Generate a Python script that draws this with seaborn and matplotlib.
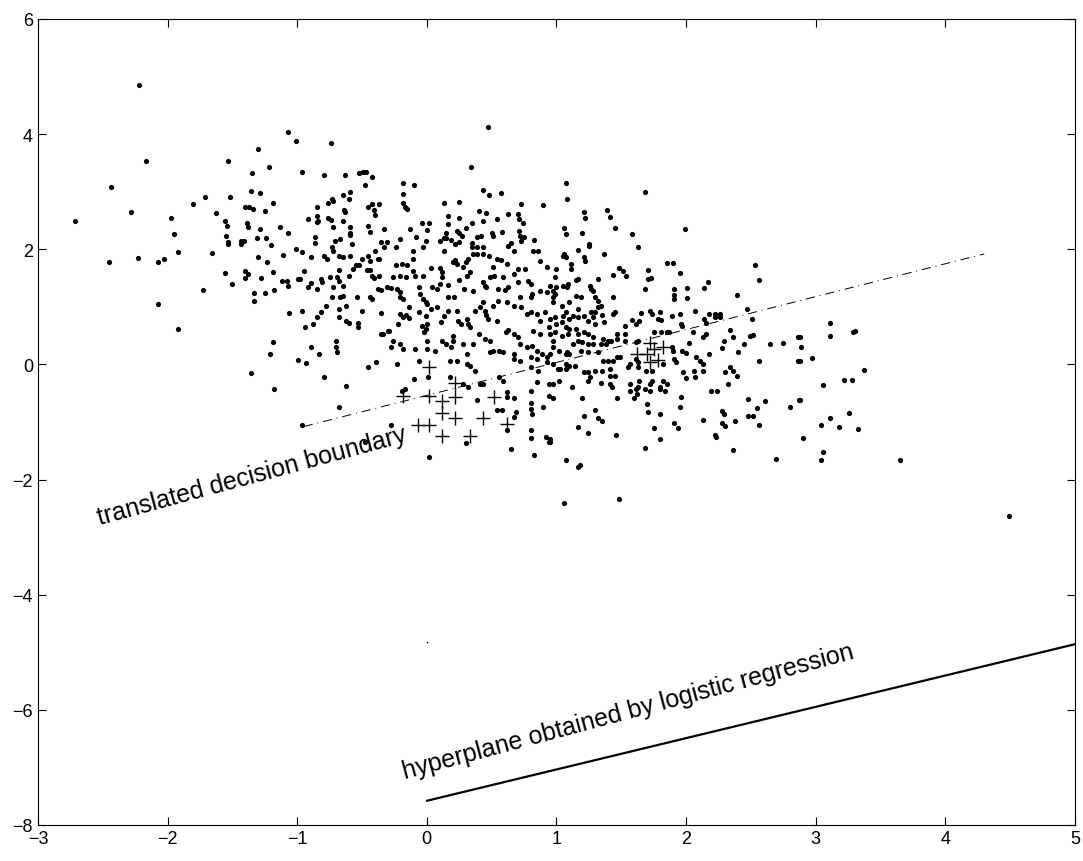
import matplotlib
matplotlib.use("Agg")
import matplotlib.pyplot as plt
import seaborn as sns
import pandas as pd

sns.set_style("ticks")
plt.rcParams["font.family"] = ["Liberation Sans", "DejaVu Sans"]
plt.rcParams["text.color"] = "black"

# scatter cloud (x, y)
dot_points = [
    (-2.22, 4.86), (-1.07, 4.04), (-1.01, 3.88), (-1.30, 3.74), (-2.17, 3.53), (-1.53, 3.53),
    (-1.22, 3.43), (-1.35, 3.33), (-2.44, 3.08), (-1.36, 3.01), (-1.29, 2.98), (-1.71, 2.91),
    (-1.52, 2.91), (-1.80, 2.79), (-1.19, 2.80), (-1.40, 2.74), (-1.37, 2.74), (-1.34, 2.70),
    (-2.28, 2.65), (-1.63, 2.63), (-1.25, 2.67), (-2.71, 2.49), (-1.97, 2.55), (-1.56, 2.49),
    (-1.54, 2.41), (-1.39, 2.46), (-1.38, 2.39), (-1.29, 2.35), (-1.13, 2.39), (-1.07, 2.28),
    (-1.95, 2.27), (-1.55, 2.23), (-1.53, 2.13), (-1.43, 2.15), (-1.41, 2.15), (-1.31, 2.20),
    (-1.24, 2.20),
    (-2.45, 1.78), (-2.23, 1.85), (-2.07, 1.78), (-2.03, 1.83), (-1.92, 1.95), (-1.66, 1.94),
    (-1.53, 2.09), (-1.43, 2.09), (-1.20, 2.08), (-1.01, 2.01), (-1.30, 1.87), (-1.11, 1.90),
    (-1.23, 1.78), (-1.56, 1.59), (-1.40, 1.63), (-1.38, 1.57), (-1.40, 1.50), (-1.28, 1.50),
    (-1.19, 1.61), (-1.50, 1.40), (-1.73, 1.30), (-1.12, 1.45), (-1.08, 1.45), (-1.07, 1.36),
    (-0.99, 1.49), (-1.33, 1.24), (-1.25, 1.24), (-1.18, 1.30), (-1.33, 1.10), (-2.07, 1.05),
    (-1.06, 0.90), (-1.92, 0.62), (-1.19, 0.39), (-1.21, 0.18), (-0.99, 0.08), (-1.36, -0.15),
    (-1.18, -0.42),
    (-0.68, -0.74), (-0.96, -1.05), (-0.28, -1.05), (-0.48, -1.34), (0.02, -1.60), (0.39, -0.61),
    (0.62, -0.56), (0.67, -0.58), (0.54, -0.79), (0.58, -0.79), (0.69, -0.82), (0.67, -0.91),
    (0.62, -1.14), (0.30, -1.36), (0.65, -1.47), (0.80, -0.67), (0.80, -0.77), (0.81, -0.86),
    (0.90, -0.74), (0.94, -0.55), (0.80, -1.14), (0.80, -1.28), (0.92, -1.26), (0.94, -1.34),
    (0.83, -1.57),
    (-0.96, 3.34), (-0.74, 3.85), (-0.79, 3.29), (-0.63, 3.29), (-0.52, 3.33), (-0.49, 3.34),
    (-0.47, 3.34), (-0.42, 3.26), (-0.48, 3.12), (-0.18, 3.15), (-0.10, 3.12), (-0.18, 2.96),
    (-0.65, 2.94), (-0.59, 3.00), (-0.60, 2.88), (-0.85, 2.74), (-0.76, 2.81), (-0.73, 2.88),
    (-0.72, 2.84), (-0.64, 2.68), (-0.63, 2.65), (-0.45, 2.74), (-0.42, 2.79), (-0.37, 2.79),
    (-0.41, 2.68), (-0.40, 2.60), (-0.18, 2.81), (-0.17, 2.74), (-0.15, 2.70), (-0.92, 2.53),
    (-0.85, 2.58), (-0.85, 2.48), (-0.84, 2.49), (-0.76, 2.55), (-0.74, 2.51), (-0.65, 2.49),
    (-0.72, 2.39), (-0.59, 2.39), (-0.59, 2.28), (-0.59, 2.25), (-0.45, 2.41), (-0.44, 2.30),
    (-0.33, 2.35), (-0.13, 2.35), (-0.04, 2.46), (0.02, 2.46), (0.00, 2.34), (-0.08, 2.22),
    (-0.21, 2.18), (-0.01, 2.15), (-0.35, 2.13), (-0.31, 2.13), (-0.71, 2.15), (-0.67, 2.18),
    (-0.86, 2.22), (-0.86, 2.11), (-0.58, 2.09), (0.13, 2.81), (0.25, 2.82), (0.16, 2.58),
    (0.25, 2.55), (0.16, 2.44), (0.15, 2.28), (0.23, 2.32), (0.25, 2.28), (0.27, 2.23),
    (0.13, 2.20), (0.15, 2.20), (0.19, 2.16), (0.10, 2.15), (0.25, 2.13), (0.30, 2.37),
    (0.35, 2.46), (0.34, 3.43), (0.47, 4.13), (0.43, 3.03), (0.48, 2.94), (0.57, 2.98),
    (0.40, 2.67), (0.46, 2.63), (0.43, 2.49), (0.54, 2.53), (0.63, 2.61), (0.70, 2.61),
    (0.71, 2.53), (0.74, 2.46), (0.73, 2.79), (0.90, 2.77), (0.39, 2.22), (0.42, 2.23),
    (0.50, 2.28), (0.51, 2.23), (0.58, 2.30), (0.71, 2.32), (0.72, 2.23), (0.75, 2.22),
    (0.73, 2.15), (0.83, 2.16), (0.65, 2.11), (0.35, 2.11),
    (1.07, 3.15), (1.08, 2.88), (1.21, 2.65), (1.22, 2.55), (1.39, 2.68), (1.41, 2.56),
    (1.68, 3.00), (1.45, 2.37), (1.06, 2.37), (1.07, 2.27), (1.20, 2.28), (1.58, 2.27),
    (1.99, 2.35), (1.25, 2.09),
    (-0.96, 1.95), (-0.89, 1.87), (-0.79, 1.89), (-0.77, 1.83), (-0.73, 2.04), (-0.72, 1.97),
    (-0.68, 1.89), (-0.65, 1.87), (-0.59, 1.89), (-0.50, 1.83), (-0.45, 1.89), (-0.44, 1.80),
    (-0.40, 1.97), (-0.37, 1.83), (-0.38, 1.83), (-0.33, 2.04), (-0.24, 2.04), (-0.11, 1.97),
    (-0.11, 1.83), (-0.03, 2.04), (0.13, 1.97), (0.22, 2.09), (0.22, 1.82), (0.23, 1.75),
    (0.20, 1.78), (0.28, 1.69), (0.30, 1.78), (0.32, 1.83), (0.36, 1.92), (0.39, 1.92),
    (0.43, 1.92), (0.48, 1.89), (0.35, 2.04), (0.39, 2.04), (0.43, 2.04), (0.54, 1.83),
    (0.57, 1.82), (0.63, 2.06), (0.67, 1.97), (0.82, 1.97), (0.86, 1.97), (0.87, 1.80),
    (0.93, 1.69), (0.51, 1.69), (0.62, 1.75), (0.70, 1.66), (0.76, 1.66), (-0.95, 1.63),
    (-0.98, 1.49), (-0.92, 1.35), (-0.89, 1.42), (-0.85, 1.31), (-0.82, 1.49), (-0.81, 1.43),
    (-0.75, 1.52), (-0.72, 1.35), (-0.69, 1.52), (-0.68, 1.45), (-0.65, 1.37), (-0.68, 1.64),
    (-0.60, 1.54), (-0.57, 1.66), (-0.55, 1.73), (-0.52, 1.73), (-0.46, 1.64), (-0.44, 1.64),
    (-0.42, 1.54), (-0.41, 1.50), (-0.37, 1.54), (-0.38, 1.31), (-0.35, 1.30), (-0.31, 1.35),
    (-0.28, 1.33), (-0.24, 1.73), (-0.19, 1.75), (-0.15, 1.73), (-0.26, 1.52), (-0.21, 1.54),
    (-0.16, 1.52), (-0.23, 1.31), (-0.21, 1.26), (-0.21, 1.17), (-0.18, 1.14), (-0.11, 1.63),
    (-0.09, 1.54), (-0.06, 1.35), (-0.05, 1.23), (-0.03, 1.14), (-0.01, 1.09), (0.00, 1.05),
    (-0.03, 1.54), (0.03, 1.68), (0.04, 1.35), (0.08, 1.31), (0.10, 1.68), (0.12, 1.61),
    (0.12, 1.52), (0.10, 1.40), (0.16, 1.38), (0.16, 1.17), (0.21, 1.17), (0.25, 1.47),
    (0.29, 1.31), (0.36, 1.28), (0.31, 1.54), (0.33, 1.61), (0.43, 1.43), (0.45, 1.36),
    (0.46, 1.35), (0.49, 1.52), (0.52, 1.54), (0.59, 1.52), (0.67, 1.57), (0.55, 1.31),
    (0.60, 1.30), (0.63, 1.35), (0.70, 1.43), (0.78, 1.45), (0.80, 1.40), (0.72, 1.17),
    (0.80, 1.17), (0.81, 1.23), (0.87, 1.28), (0.93, 1.26), (-0.96, 0.93), (-0.94, 0.65),
    (-0.73, 1.17), (-0.67, 1.17), (-0.65, 1.19), (-0.54, 1.17), (-0.44, 1.17), (-0.42, 1.14),
    (-0.78, 1.02), (-0.82, 0.91), (-0.85, 0.83), (-0.68, 0.97), (-0.62, 1.02), (-0.68, 0.83),
    (-0.50, 0.93), (-0.62, 0.76), (-0.60, 0.72), (-0.53, 0.72), (-0.53, 0.65), (-0.35, 0.90),
    (-0.21, 0.88), (-0.18, 0.83), (-0.16, 0.86), (-0.14, 0.81), (-0.14, 1.00), (-0.22, 0.70),
    (-0.29, 0.58), (-0.34, 0.53), (-0.88, 0.70), (-0.06, 0.91), (-0.01, 0.84), (0.00, 0.70),
    (-0.01, 0.62), (-0.02, 0.57), (0.03, 0.97), (0.08, 1.00), (0.13, 0.84), (0.16, 0.93),
    (0.23, 0.93), (0.11, 0.74), (0.24, 0.76), (0.26, 0.70), (0.31, 0.79), (0.32, 0.70),
    (0.33, 0.65), (0.37, 0.93), (0.41, 1.00), (0.45, 0.93), (0.46, 0.86), (0.47, 0.79),
    (0.43, 1.09), (0.51, 1.02), (0.55, 1.10), (0.62, 1.09), (0.67, 1.02), (0.73, 1.00),
    (0.77, 0.88), (0.80, 0.91), (0.85, 0.88), (0.91, 0.91), (0.54, 0.76), (0.61, 0.57),
    (0.63, 0.60), (0.67, 0.53), (0.70, 0.48), (0.40, 0.53), (0.45, 0.44), (0.49, 0.41),
    (0.20, 0.50), (0.20, 0.41), (0.12, 0.41), (0.15, 0.36), (0.19, 0.30), (0.28, 0.36),
    (0.31, 0.18), (0.36, 0.36), (0.49, 0.22), (0.51, 0.24), (0.56, 0.24), (0.59, 0.22),
    (0.67, 0.18), (0.72, 0.36), (0.77, 0.30), (0.81, 0.32), (0.85, 0.24), (0.89, 0.18),
    (0.93, 0.13), (0.94, 0.65), (0.87, 0.76), (0.82, 0.58), (0.87, 0.53), (0.00, 0.41),
    (0.00, 0.27), (0.06, 0.24), (-0.09, 0.27), (-0.28, 0.30), (-0.26, 0.41), (-0.21, 0.36),
    (-0.18, 0.27), (-0.35, 0.53), (-0.30, 0.58), (-0.70, 0.41), (-0.70, 0.31), (-0.69, 0.22),
    (-0.62, -0.37), (-0.79, -0.22), (-0.83, 0.18), (-0.93, 0.03), (-0.89, 0.30), (-0.45, -0.04),
    (-0.39, 0.04), (-0.23, 0.01), (-0.06, 0.06), (-0.17, -0.42), (-0.19, -0.46), (-0.10, -0.25),
    (0.01, -0.21), (0.18, -0.21), (0.31, 0.00), (0.33, -0.02), (0.37, -0.11), (0.41, -0.34),
    (0.28, -0.34), (0.32, -0.39), (0.43, -0.34), (0.56, -0.21), (0.59, -0.28), (0.62, -0.48),
    (0.80, -0.46), (0.85, -0.30), (0.94, -0.34), (0.86, -0.11), (0.80, -0.04), (0.67, 0.10),
    (0.72, 0.06), (0.80, 0.13), (0.85, 0.10), (0.93, 0.04), (0.18, 0.06), (0.23, 0.06),
    (-0.04, 0.67),
    (1.25, 2.06), (1.17, 1.99), (1.05, 1.89), (1.07, 1.87), (1.06, 1.92), (1.21, 1.87),
    (1.22, 1.80), (1.37, 1.92), (1.63, 2.04), (1.85, 1.76), (1.90, 1.76), (2.53, 1.73),
    (2.56, 1.47), (1.00, 1.66), (1.11, 1.66), (1.11, 1.75), (0.99, 1.52), (1.17, 1.49),
    (1.15, 1.47), (1.32, 1.49), (1.44, 1.56), (1.48, 1.68), (1.51, 1.63), (1.54, 1.54),
    (1.71, 1.64), (1.71, 1.49), (1.73, 1.50), (1.95, 1.59), (2.17, 1.43), (2.14, 1.33),
    (1.68, 1.31), (1.91, 1.31), (2.01, 1.33), (2.01, 1.16), (1.91, 1.21), (1.91, 1.14),
    (2.39, 1.21), (0.95, 1.36), (1.00, 1.35), (0.99, 1.23), (0.97, 1.28), (0.97, 1.17),
    (1.05, 1.36), (1.08, 1.35), (1.09, 1.40), (1.15, 1.19), (1.19, 1.17), (1.26, 1.36),
    (1.27, 1.31), (1.28, 1.28), (1.30, 1.17), (1.32, 1.10), (1.34, 1.02), (1.32, 1.00),
    (1.30, 0.91), (1.44, 1.17), (0.97, 1.09), (1.04, 1.02), (1.10, 1.09), (1.17, 0.97),
    (1.07, 0.91), (1.05, 0.84), (1.10, 0.79), (0.99, 0.83), (0.95, 0.79), (1.00, 0.70),
    (1.04, 0.74), (1.13, 0.84), (1.17, 0.83), (1.21, 0.84), (1.24, 0.76), (1.27, 0.91),
    (1.28, 0.83), (1.30, 0.70), (1.35, 0.86), (1.37, 0.74), (1.45, 0.91), (1.44, 0.88),
    (1.58, 0.77), (1.61, 0.70), (1.64, 0.76), (1.65, 0.90), (1.72, 0.93), (1.74, 0.88),
    (1.78, 0.79), (1.81, 0.77), (1.80, 0.91), (1.53, 0.67), (1.89, 0.84), (1.95, 0.88),
    (1.96, 0.70), (1.97, 0.67), (2.07, 0.93), (2.14, 0.79), (2.15, 0.72), (2.18, 0.88),
    (2.22, 0.88), (2.26, 0.88), (2.22, 0.83), (2.26, 0.83), (2.47, 0.97), (2.51, 0.79),
    (2.86, 0.48), (2.86, 0.06), (2.34, 0.60), (2.36, 0.48), (2.49, 0.50), (2.52, 0.51),
    (2.65, 0.36), (2.75, 0.37), (2.45, 0.36), (2.56, 0.06), (2.40, 0.22), (2.29, 0.41),
    (2.28, 0.29), (2.13, 0.48), (2.15, 0.53), (2.05, 0.57), (2.02, 0.38), (1.97, 0.24),
    (2.00, 0.20), (1.91, 0.10), (1.92, 0.04), (2.08, 0.13), (2.11, 0.06), (2.13, 0.01),
    (2.18, 0.18), (2.30, -0.13), (2.34, -0.04), (2.36, -0.11), (2.39, -0.20), (2.06, -0.11),
    (2.07, -0.21), (2.13, -0.11), (1.98, -0.13), (2.00, -0.23), (2.19, -0.46), (2.24, -0.46),
    (2.32, -0.34), (1.82, 0.01), (1.82, -0.29), (1.85, -0.34), (1.74, -0.29), (1.72, -0.34),
    (1.80, -0.39), (1.68, -0.42), (1.63, -0.39), (1.57, -0.34), (1.64, -0.29), (1.69, -0.11),
    (1.74, -0.11), (1.63, 0.04), (1.63, -0.04), (1.57, 0.01), (1.55, -0.04), (1.61, 0.10),
    (1.53, 0.53), (1.53, 0.41), (1.61, 0.39), (1.63, 0.41), (1.75, 0.57), (1.81, 0.57),
    (1.85, 0.57), (1.87, 0.57), (1.89, 0.30), (1.90, 0.24), (1.47, 0.53), (1.47, 0.44),
    (1.36, 0.44), (1.40, 0.41), (1.42, 0.41), (1.34, 0.36), (1.38, 0.36), (1.47, 0.13),
    (1.49, 0.13), (1.44, 0.06), (1.40, 0.06), (1.36, 0.06), (1.28, 0.36), (1.24, 0.36),
    (1.20, 0.39), (1.17, 0.41), (1.28, 0.48), (1.24, 0.53), (1.21, 0.57), (1.17, 0.53),
    (1.15, 0.62), (1.09, 0.53), (1.10, 0.62), (1.07, 0.65), (1.04, 0.50), (0.95, 0.53),
    (0.99, 0.57), (0.97, 0.41), (0.97, 0.30), (1.02, 0.24), (1.07, 0.18), (1.08, 0.22),
    (1.10, 0.18), (1.13, 0.36), (1.19, 0.24), (1.24, 0.22), (1.32, 0.22), (0.95, 0.18),
    (0.97, 0.01), (1.03, -0.08), (1.07, 0.01), (1.10, -0.02), (1.14, -0.02), (1.01, -0.08),
    (1.07, -0.08), (1.21, -0.13), (1.24, -0.13), (1.30, -0.11), (1.35, -0.11), (1.41, -0.08),
    (1.24, -0.29), (1.26, -0.22), (1.34, -0.32), (1.41, -0.20), (1.45, -0.20), (1.41, -0.34),
    (1.43, -0.39), (1.02, -0.29), (1.12, -0.39), (1.57, -0.46), (1.61, -0.42), (1.72, -0.46),
    (1.80, -0.42), (1.84, -0.46), (0.97, -0.34),
    (0.97, -0.58), (1.20, -0.58), (1.47, -0.58), (1.60, -0.58), (1.62, -0.51), (1.30, -0.79),
    (1.21, -0.89), (1.32, -0.93), (1.35, -0.98), (1.17, -1.08), (1.24, -1.19), (1.46, -1.22),
    (1.70, -0.68), (1.71, -0.82), (1.80, -0.86), (1.75, -1.10), (1.80, -1.29), (1.68, -1.45),
    (1.96, -0.56), (1.95, -0.74), (1.91, -1.01), (1.94, -1.10), (2.13, -0.96), (2.28, -0.81),
    (2.29, -0.86), (2.28, -1.01), (2.30, -1.07), (2.22, -1.22), (2.23, -1.26), (2.38, -0.99),
    (2.36, -1.48), (2.48, -0.60), (2.48, -0.89), (2.52, -0.89), (2.55, -0.75), (2.56, -1.05),
    (2.61, -0.63), (2.69, -1.64), (2.80, -0.74), (2.87, -0.61), (1.07, -1.66), (1.17, -1.78),
    (1.18, -1.74), (1.06, -2.40), (1.48, -2.33), (0.95, -1.29), (0.95, -1.34),
    (2.88, -0.61), (3.26, -0.84), (3.11, -0.93), (3.04, -1.05), (3.18, -1.08), (3.33, -1.12),
    (2.90, -1.27), (3.06, -1.52), (3.04, -1.66), (3.65, -1.66), (4.49, -2.63),
    (3.11, 0.72), (3.11, 0.50), (3.29, 0.57), (3.30, 0.58), (2.88, 0.48), (2.89, 0.30),
    (2.88, 0.06), (2.97, 0.11), (3.37, -0.09), (3.22, -0.27), (3.28, -0.27), (3.06, -0.35),
]

# the "+" class
plus_x = [-0.18, 0.02, 0.12, 0.22, 0.52, 0.12, 0.22, 0.43, -0.07, 0.02, 0.62, 0.12, 0.33, 0.02, 0.22,
          1.62, 1.72, 1.75, 1.78, 1.70, 1.82, 1.72]
plus_y = [-0.55, -0.55, -0.63, -0.56, -0.56, -0.84, -0.93, -0.93, -1.05, -1.05, -1.03, -1.24, -1.24,
          -0.05, -0.33, 0.18, 0.37, 0.27, 0.08, 0.18, 0.30, 0.05]

# lines
boundary_x = [-0.95, 4.30]
boundary_y = [-1.08, 1.92]
hyperplane_x = [0.0, 5.0]
hyperplane_y = [-7.58, -4.86]
stray_x = [0.0]
stray_y = [-4.82]

dots = pd.DataFrame(dot_points, columns=["x", "y"])

fig = plt.figure(figsize=(10.83, 8.62), dpi=100)
ax = fig.add_axes([0.035, 0.0418, 0.9576, 0.935])

sns.scatterplot(data=dots, x="x", y="y", ax=ax, color="black", s=14, linewidth=0)
sns.scatterplot(x=plus_x, y=plus_y, ax=ax, color="black", marker="+", s=110, linewidth=1.0)
sns.scatterplot(x=stray_x, y=stray_y, ax=ax, color="black", s=1.5, linewidth=0)

ax.plot(boundary_x, boundary_y, color="black", linewidth=0.7, dashes=(9.5, 5, 1, 5))
ax.plot(hyperplane_x, hyperplane_y, color="black", linewidth=1.6)

ax.text(-2.52, -2.78, "translated decision boundary", rotation=15.2, rotation_mode="anchor",
        ha="left", va="baseline", fontsize=18, color="black")
ax.text(-0.17, -7.18, "hyperplane obtained by logistic regression", rotation=15.0,
        rotation_mode="anchor", ha="left", va="baseline", fontsize=18, color="black")

ax.set_xlim(-3, 5)
ax.set_ylim(-8, 6)
ax.set_xticks(range(-3, 6))
ax.set_yticks(range(-8, 7, 2))
ax.set_xlabel("")
ax.set_ylabel("")
ax.tick_params(direction="in", top=True, right=True, length=6, width=0.8, labelsize=13,
               colors="black")
for s in ax.spines.values():
    s.set_visible(True)
    s.set_linewidth(0.8)
    s.set_color("black")

fig.savefig("out.png", dpi=100)
plt.close(fig)
